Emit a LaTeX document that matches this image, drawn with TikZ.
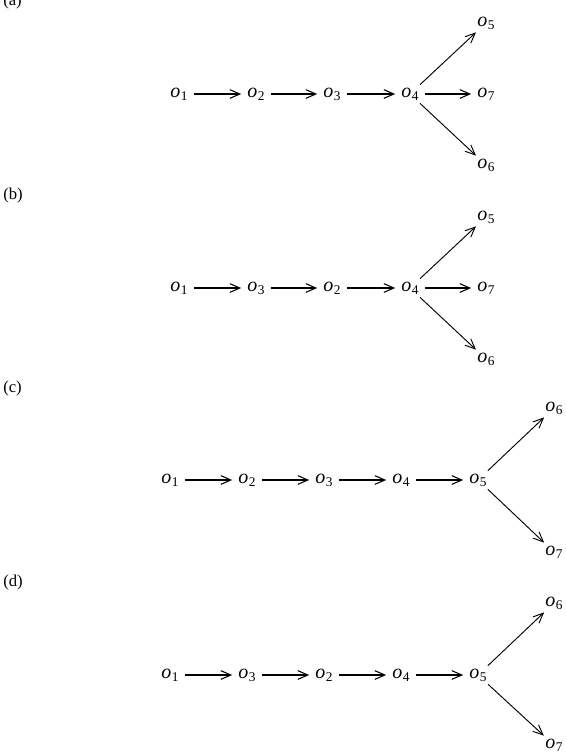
\documentclass[tikz,border=0pt]{standalone}
\usepackage{fontspec}
\setmainfont{Liberation Serif}
\usetikzlibrary{arrows.meta}
\newcommand\ob[1]{\textit{o}\kern0.3pt\raisebox{-0.32ex}{\fontsize{10}{10}\selectfont #1}}
\begin{document}
\begin{tikzpicture}[x=0.75pt,y=-0.75pt,
  obj/.style={inner sep=4.5pt,text height=1ex,text depth=0pt,font=\fontsize{15}{16}\selectfont},
  lab/.style={inner sep=0pt,font=\fontsize{12.5}{14}\selectfont},
  thick chain/.style={line width=1.5pt,-{Straight Barb[length=7.5pt,width=6.5pt,line width=0.8pt]}},
  thin chain/.style={line width=0.8pt,-{Straight Barb[length=7.5pt,width=6.5pt,line width=0.8pt]}},
  diag/.style={line width=0.7pt,-{Straight Barb[length=7.5pt,width=6.5pt,line width=0.7pt]}}]
\useasboundingbox (0,0) rectangle (566,754);
% (a)
\node[lab,anchor=west] (la) at (3,1) {(a)};
\node[obj] (a1) at (179,94) {\ob1};
\node[obj] (a2) at (256,94) {\ob2};
\node[obj] (a3) at (332,94) {\ob3};
\node[obj] (a4) at (410,94) {\ob4};
\node[obj] (a7) at (486,94) {\ob7};
\node[obj] (a5) at (486,23) {\ob5};
\node[obj] (a6) at (486,165) {\ob6};
\draw[thick chain] (a1) -- (a2);
\draw[thick chain] (a2) -- (a3);
\draw[thick chain] (a3) -- (a4);
\draw[thick chain] (a4) -- (a7);
\draw[diag] (a4) -- (a5);
\draw[diag] (a4) -- (a6);
% (b)
\node[lab,anchor=west] (lb) at (3,195) {(b)};
\node[obj] (b1) at (179,288) {\ob1};
\node[obj] (b3) at (256,288) {\ob3};
\node[obj] (b2) at (332,288) {\ob2};
\node[obj] (b4) at (410,288) {\ob4};
\node[obj] (b7) at (486,288) {\ob7};
\node[obj] (b5) at (486,217) {\ob5};
\node[obj] (b6) at (486,359) {\ob6};
\draw[thin chain] (b1) -- (b3);
\draw[thick chain] (b3) -- (b2);
\draw[thick chain] (b2) -- (b4);
\draw[thick chain] (b4) -- (b7);
\draw[diag] (b4) -- (b5);
\draw[diag] (b4) -- (b6);
% (c)
\node[lab,anchor=west] (lc) at (3,388) {(c)};
\node[obj] (c1) at (170,480) {\ob1};
\node[obj] (c2) at (247,480) {\ob2};
\node[obj] (c3) at (324,480) {\ob3};
\node[obj] (c4) at (401,480) {\ob4};
\node[obj] (c5) at (478,480) {\ob5};
\node[obj] (c6) at (554,408) {\ob6};
\node[obj] (c7) at (554,552) {\ob7};
\draw[thick chain] (c1) -- (c2);
\draw[thick chain] (c2) -- (c3);
\draw[thick chain] (c3) -- (c4);
\draw[thick chain] (c4) -- (c5);
\draw[diag] (c5) -- (c6);
\draw[diag] (c5) -- (c7);
% (d)
\node[lab,anchor=west] (ld) at (3,582) {(d)};
\node[obj] (d1) at (170,675) {\ob1};
\node[obj] (d3) at (247,675) {\ob3};
\node[obj] (d2) at (324,675) {\ob2};
\node[obj] (d4) at (401,675) {\ob4};
\node[obj] (d5) at (478,675) {\ob5};
\node[obj] (d6) at (554,603) {\ob6};
\node[obj] (d7) at (554,745) {\ob7};
\draw[thin chain] (d1) -- (d3);
\draw[thin chain] (d3) -- (d2);
\draw[thin chain] (d2) -- (d4);
\draw[thin chain] (d4) -- (d5);
\draw[diag] (d5) -- (d6);
\draw[diag] (d5) -- (d7);
\end{tikzpicture}
\end{document}
